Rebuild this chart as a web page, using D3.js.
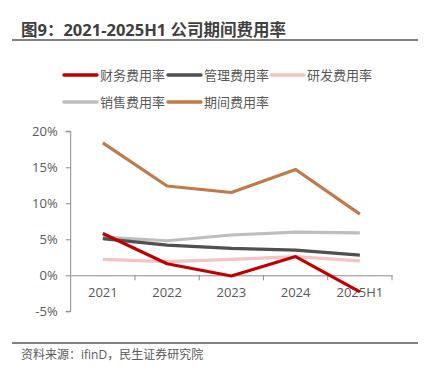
<!DOCTYPE html>
<html><head><meta charset="utf-8">
<script src="https://cdn.jsdelivr.net/npm/d3@7"></script>
<style>body{margin:0;background:#fff;}svg{display:block;}</style>
</head><body>
<script>
const categories = ["2021","2022","2023","2024","2025H1"];
const seriesNames = ["财务费用率","管理费用率","研发费用率","销售费用率","期间费用率"];
const finance = [5.8, 1.6, -0.1, 2.6, -2.3];
const admin = [5.1, 4.2, 3.75, 3.5, 2.8];
const rnd = [2.2, 1.9, 2.2, 2.6, 2.0];
const sales = [5.3, 4.8, 5.6, 6.0, 5.9];
const period = [18.4, 12.4, 11.5, 14.7, 8.5];
const yTicks = [-5, 0, 5, 10, 15, 20];
const colors = ["#C00000","#505050","#F2C4C4","#BEBEBE","#C07A48"];
const allSeries = [finance, admin, rnd, sales, period];
const drawOrder = [2, 3, 1, 0, 4];

const W = 441, H = 381;
const font = "'Open Sans','Noto Sans CJK SC',sans-serif";
const svg = d3.select("body").append("svg").attr("width", W).attr("height", H);

svg.append("text").attr("x", 21).attr("y", 36).attr("font-family", font)
  .attr("font-size", 16.5).attr("font-weight", "bold").attr("fill", "#404040")
  .text("图9：2021-2025H1 公司期间费用率");
svg.append("line").attr("x1", 12).attr("x2", 418).attr("y1", 40).attr("y2", 40)
  .attr("stroke", "#595959").attr("stroke-width", 1.6);

// legend
const legendPos = [[64,75],[168,75],[271,75],[64,102],[168,102]];
seriesNames.forEach((n,i)=>{
  const [lx,ly] = legendPos[i];
  svg.append("line").attr("x1", lx).attr("x2", lx+33).attr("y1", ly).attr("y2", ly)
    .attr("stroke", colors[i]).attr("stroke-width", 3.5).attr("stroke-linecap","round");
  svg.append("text").attr("x", lx+36).attr("y", ly).attr("dy","0.35em")
    .attr("font-family", font).attr("font-size", 13).attr("fill", "#595959").text(n);
});

const x = d3.scaleBand().domain(categories).range([70.7, 392]);
const y = d3.scaleLinear().domain([-5, 20]).range([311.3, 131.3]);
const axisColor = "#8c8c8c";

// y axis
const yAxis = svg.append("g").attr("transform", `translate(${x.range()[0]},0)`)
  .call(d3.axisLeft(y).tickValues(yTicks).tickFormat(d=>d+"%").tickSize(5).tickPadding(8));
yAxis.select(".domain").attr("stroke", axisColor).attr("d", `M-5,${y(-5)}H0V${y(20)}H-5`);
yAxis.selectAll(".tick line").attr("stroke", axisColor);
yAxis.selectAll("text").attr("font-family", font).attr("font-size", 13).attr("fill", "#595959");

// x axis at 0
const xAxis = svg.append("g").attr("transform", `translate(0,${y(0)})`)
  .call(d3.axisBottom(x).tickSize(0).tickPadding(12));
xAxis.select(".domain").attr("stroke", axisColor);
xAxis.selectAll("text").attr("font-family", font).attr("font-size", 13).attr("fill", "#595959");
const bounds = categories.map(c=>x(c)).concat([x.range()[1]]);
xAxis.selectAll(".bt").data(bounds.slice(1)).enter().append("line")
  .attr("x1", d=>d).attr("x2", d=>d).attr("y1", 0).attr("y2", 5).attr("stroke", axisColor);

const line = d3.line().x((d,i)=>x(categories[i]) + x.bandwidth()/2).y(d=>y(d));
drawOrder.forEach(i=>{
  svg.append("path").attr("d", line(allSeries[i])).attr("fill","none")
    .attr("stroke", colors[i]).attr("stroke-width", 3.2).attr("stroke-linejoin","round");
});

svg.append("line").attr("x1", 12).attr("x2", 418).attr("y1", 343).attr("y2", 343)
  .attr("stroke", "#595959").attr("stroke-width", 1.6);
svg.append("text").attr("x", 21).attr("y", 355).attr("dy","0.35em").attr("font-family", font)
  .attr("font-size", 12).attr("fill", "#595959").text("资料来源：ifinD，民生证券研究院");
</script>
</body></html>
